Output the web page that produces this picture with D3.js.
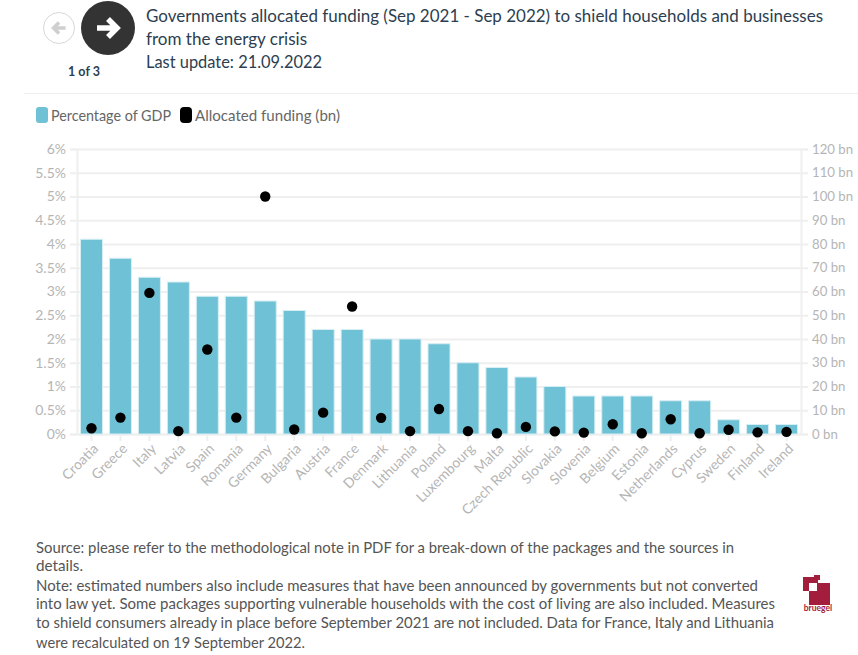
<!DOCTYPE html>
<html>
<head>
<meta charset="utf-8">
<script src="https://cdn.jsdelivr.net/npm/d3@7"></script>
<style>
    html, body { margin: 0; padding: 0; background: #fff; overflow: hidden; }
    text { font-family: Lato, "Noto Sans", sans-serif; }
</style>
</head>
<body>
<div id="chart"></div>
<script>
const countries = ["Croatia", "Greece", "Italy", "Latvia", "Spain", "Romania", "Germany", "Bulgaria", "Austria", "France", "Denmark", "Lithuania", "Poland", "Luxembourg", "Malta", "Czech Republic", "Slovakia", "Slovenia", "Belgium", "Estonia", "Netherlands", "Cyprus", "Sweden", "Finland", "Ireland"];
const pctGdp = [4.1, 3.7, 3.3, 3.2, 2.9, 2.9, 2.8, 2.6, 2.2, 2.2, 2.0, 2.0, 1.9, 1.5, 1.4, 1.2, 1.0, 0.8, 0.8, 0.8, 0.7, 0.7, 0.3, 0.2, 0.2];
const fundingBn = [2.4, 6.9, 59.4, 1.2, 35.6, 6.9, 100, 1.9, 9, 53.7, 6.8, 1.2, 10.5, 1.2, 0.3, 3, 1.1, 0.6, 4.1, 0.3, 6.2, 0.3, 1.8, 0.7, 0.9];
const pctTicks = [0, 0.5, 1, 1.5, 2, 2.5, 3, 3.5, 4, 4.5, 5, 5.5, 6];
const bnTicks = [0, 10, 20, 30, 40, 50, 60, 70, 80, 90, 100, 110, 120];
const titleLines = ["Governments allocated funding (Sep 2021 - Sep 2022) to shield households and businesses", "from the energy crisis", "Last update: 21.09.2022"];
const titleWidths = [677, 161, 176];
const noteLines = [
    "Source: please refer to the methodological note in PDF for a break-down of the packages and the sources in",
    "details.",
    "Note: estimated numbers also include measures that have been announced by governments but not converted",
    "into law yet. Some packages supporting vulnerable households with the cost of living are also included. Measures",
    "to shield consumers already in place before September 2021 are not included. Data for France, Italy and Lithuania",
    "were recalculated on 19 September 2022."
];
const noteWidths = [698, 47, 722, 739, 738, 269];

const width = 858;
const height = 655;
const marginLeft = 77;
const marginRight = 57;
const marginTop = 149;
const plotBottom = 434;

const barColor = "#6fc1d5";
const gridColor = "#efefef";
const tickColor = "#b5b5b5";

const svg = d3.select("#chart").append("svg")
    .attr("width", width)
    .attr("height", height)
    .style("display", "block");

// scales
const x = d3.scaleBand()
    .domain(countries)
    .range([marginLeft, width - marginRight])
    .paddingInner(0.24)
    .paddingOuter(0.12);
const yPct = d3.scaleLinear().domain([0, 6]).range([plotBottom, marginTop]);
const yBn = d3.scaleLinear().domain([0, 120]).range([plotBottom, marginTop]);

// left axis, ticks double as the gridlines
const gLeft = svg.append("g")
    .attr("transform", `translate(${marginLeft},0)`)
    .call(d3.axisLeft(yPct).tickValues(pctTicks).tickFormat(d => d + "%")
        .tickSize(7).tickPadding(4));
gLeft.selectAll(".tick line").clone()
    .attr("x1", 0)
    .attr("x2", width - marginLeft - marginRight)
    .attr("stroke", gridColor);

// right axis
const gRight = svg.append("g")
    .attr("transform", `translate(${width - marginRight},0)`)
    .call(d3.axisRight(yBn).tickValues(bnTicks).tickFormat(d => d + " bn")
        .tickSize(7).tickPadding(4));

// bottom axis
const gBottom = svg.append("g")
    .attr("transform", `translate(0,${plotBottom})`)
    .call(d3.axisBottom(x).tickSize(7).tickSizeOuter(0));
gBottom.selectAll(".tick text")
    .attr("text-anchor", "end")
    .attr("dx", "4")
    .attr("dy", "2")
    .attr("y", 12)
    .attr("transform", "translate(3.5,5) rotate(-45,0,12)");

[gLeft, gRight, gBottom].forEach(g => {
    g.selectAll("line").attr("stroke", gridColor).attr("stroke-width", 2);
    g.selectAll(".domain").attr("stroke", gridColor).attr("stroke-width", 2);
    g.selectAll("text")
        .attr("fill", tickColor)
        .style("font-size", "14px")
        .style("font-family", "Lato, sans-serif");
});
gRight.selectAll("text").style("font-size", "13.2px");

// bars
svg.append("g").selectAll("rect")
    .data(countries)
    .join("rect")
    .attr("x", d => x(d))
    .attr("width", x.bandwidth())
    .attr("y", (d, i) => yPct(pctGdp[i]))
    .attr("height", (d, i) => plotBottom - yPct(pctGdp[i]))
    .attr("fill", barColor)
    .attr("stroke", "#d6eef4")
    .attr("stroke-width", 1);

// dots
svg.append("g").selectAll("circle")
    .data(countries)
    .join("circle")
    .attr("cx", d => x(d) + x.bandwidth() / 2)
    .attr("cy", (d, i) => yBn(fundingBn[i]))
    .attr("r", 5.2)
    .attr("fill", "#000");

// legend
const legend = svg.append("g");
legend.append("rect").attr("x", 36).attr("y", 107).attr("width", 12).attr("height", 16).attr("rx", 3).attr("fill", barColor);
legend.append("text").attr("x", 51).attr("y", 121).attr("fill", "#666").style("font-size", "15px")
    .attr("textLength", 120).attr("lengthAdjust", "spacingAndGlyphs").text("Percentage of GDP");
legend.append("rect").attr("x", 180).attr("y", 107).attr("width", 12).attr("height", 16).attr("rx", 4).attr("fill", "#000");
legend.append("text").attr("x", 195).attr("y", 121).attr("fill", "#666").style("font-size", "15px")
    .attr("textLength", 145).attr("lengthAdjust", "spacingAndGlyphs").text("Allocated funding (bn)");

// separator under the header
svg.append("line").attr("x1", 24).attr("x2", width).attr("y1", 93.5).attr("y2", 93.5).attr("stroke", "#eee");

// title
svg.append("g").selectAll("text")
    .data(titleLines)
    .join("text")
    .attr("x", 146)
    .attr("y", (d, i) => 22 + i * 23)
    .attr("fill", "#2c3e50")
    .style("font-size", "17px")
    .attr("textLength", (d, i) => titleWidths[i])
    .attr("lengthAdjust", "spacingAndGlyphs")
    .text(d => d);

// previous / next buttons
const arrow = "M-11,0 L9,0 M0,-9 L9,0 L0,9";
const prev = svg.append("g").attr("transform", "translate(59,28)");
prev.append("circle").attr("r", 15.5).attr("fill", "#fff").attr("stroke", "#d8d8d8").attr("stroke-width", 1);
prev.append("path").attr("d", arrow).attr("transform", "rotate(180) scale(0.6)")
    .attr("fill", "none").attr("stroke", "#cfcfcf").attr("stroke-width", 6);
const next = svg.append("g").attr("transform", "translate(108,28)");
next.append("circle").attr("r", 27).attr("fill", "#333");
next.append("path").attr("d", arrow).attr("fill", "none").attr("stroke", "#fff").attr("stroke-width", 5.5);
svg.append("text").attr("x", 84).attr("y", 76).attr("text-anchor", "middle")
    .attr("fill", "#2c3e50").style("font-size", "12.5px").style("font-weight", "700").text("1 of 3");

// notes
const noteY = [553, 571, 591, 609, 628, 648];
svg.append("g").selectAll("text")
    .data(noteLines)
    .join("text")
    .attr("x", 36)
    .attr("y", (d, i) => noteY[i])
    .attr("fill", "#555")
    .style("font-size", "14.85px")
    .attr("textLength", (d, i) => noteWidths[i])
    .attr("lengthAdjust", "spacingAndGlyphs")
    .text(d => d);

// bruegel logo
const logo = svg.append("g").attr("fill", "#a31d3c");
logo.append("rect").attr("x", 803).attr("y", 577).attr("width", 15).attr("height", 14);
logo.append("rect").attr("x", 814).attr("y", 575).attr("width", 6).attr("height", 5);
logo.append("rect").attr("x", 809).attr("y", 583).attr("width", 21).attr("height", 22);
logo.append("rect").attr("x", 809).attr("y", 583).attr("width", 8).attr("height", 8).attr("fill", "#fff");
logo.append("text").attr("x", 818).attr("y", 611).attr("text-anchor", "middle")
    .style("font-size", "8.5px").style("font-weight", "700").text("bruegel");
</script>
</body>
</html>
